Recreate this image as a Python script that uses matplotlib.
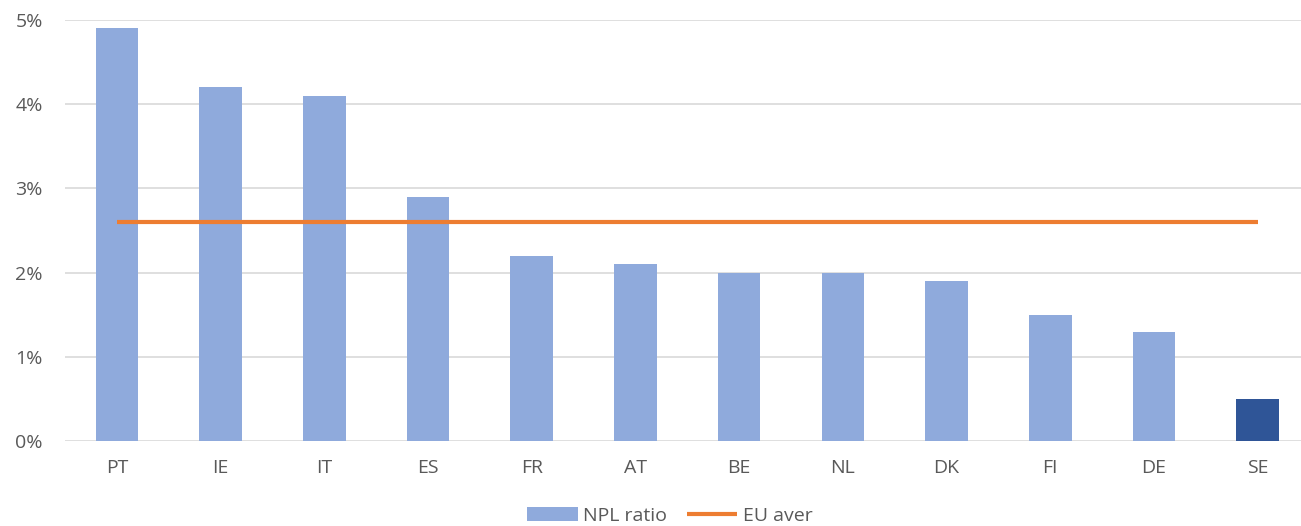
import matplotlib
matplotlib.use("Agg")
import matplotlib.pyplot as plt
from matplotlib.ticker import FuncFormatter
from matplotlib.patches import Patch

countries = ["PT", "IE", "IT", "ES", "FR", "AT", "BE", "NL", "DK", "FI", "DE", "SE"]
npl_ratio = [4.9, 4.2, 4.1, 2.9, 2.2, 2.1, 2.0, 2.0, 1.9, 1.5, 1.3, 0.5]
eu_average = [2.6] * len(countries)
yticks = [0, 1, 2, 3, 4, 5]

plt.rcParams['font.family'] = ['Open Sans', 'DejaVu Sans']

fig = plt.figure(figsize=(13.01, 5.26), dpi=100)
ax = fig.add_axes([65/1301, 1-441/526, 1-65/1301, (441-20)/526])

x = list(range(len(countries)))
colors = ["#8FAADC"] * (len(countries) - 1) + ["#2F5597"]
ax.bar(x, npl_ratio, width=0.41, color=colors, zorder=2, label="NPL ratio")
line, = ax.plot(x, eu_average, color="#ED7D31", linewidth=3, zorder=3, label="EU aver",
                solid_capstyle="butt")

ax.set_xlim(-0.5, 11.417)
ax.set_ylim(0, 5)
ax.set_yticks(yticks)
ax.yaxis.set_major_formatter(FuncFormatter(lambda v, p: f"{int(v)}%"))
ax.set_xticks(x)
ax.set_xticklabels(countries)
ax.grid(axis="y", color="#D9D9D9", linewidth=1.2, zorder=0)
for s in ["top", "right", "left", "bottom"]:
    ax.spines[s].set_visible(False)
ax.tick_params(axis="both", length=0, labelsize=14, colors="#595959")
ax.tick_params(axis="x", pad=13)
ax.tick_params(axis="y", pad=16)

handles = [Patch(facecolor="#8FAADC"), line]
fig.legend(handles, ["NPL ratio", "EU aver"], loc="center", bbox_to_anchor=(670/1301, 1-516/526),
           ncol=2, frameon=False, fontsize=14, handlelength=2.6, handleheight=0.7,
           columnspacing=1.0, handletextpad=0.3, labelcolor="#595959")

fig.savefig("out.png", dpi=100)
